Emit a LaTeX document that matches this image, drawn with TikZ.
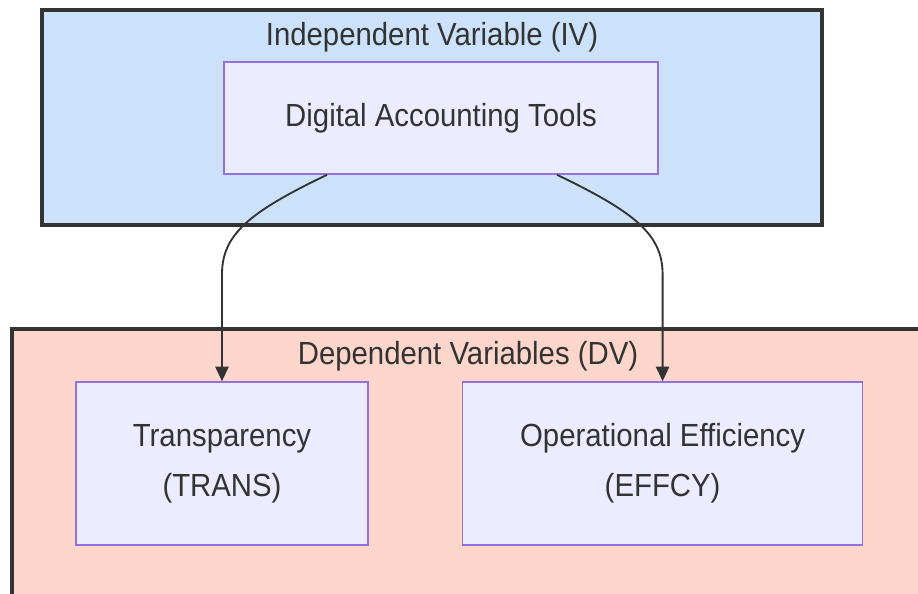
\documentclass[tikz,border=0pt]{standalone}
\usepackage{fontspec}
\setmainfont{Liberation Sans}[FakeStretch=0.917]
\usetikzlibrary{positioning, arrows.meta}

\definecolor{ivfill}{RGB}{204,226,250}
\definecolor{dvfill}{RGB}{252,213,203}
\definecolor{boxfill}{RGB}{236,236,255}
\definecolor{boxline}{RGB}{147,112,219}
\definecolor{ink}{RGB}{51,51,51}

\tikzset{
	cluster/.style={draw=ink, line width=3pt, rectangle, inner sep=0pt},
	var/.style={draw=boxline, fill=boxfill, line width=1.2pt, rectangle, inner sep=0pt,
		text=ink, align=center, font=\fontsize{24}{37.5}\selectfont},
	title/.style={text=ink, font=\fontsize{24}{28}\selectfont, inner sep=0pt},
	flow/.style={draw=ink, line width=1.4pt, -{Triangle[length=11pt, width=10pt]}}
}

\begin{document}
\begin{tikzpicture}[x=0.75pt, y=-0.75pt]
	\useasboundingbox (0,0) rectangle (918,593);
	\clip (0,0) rectangle (918,593);

	% clusters
	\node[cluster, fill=ivfill, minimum width=585pt, minimum height=161.25pt] (iv) at (432,117.5) {};
	\node[cluster, fill=dvfill, minimum width=688.5pt, minimum height=218.25pt] (dv) at (471,474.5) {};
	\node[title, anchor=base] (ivtitle) at (432,45) {Independent Variable (IV)};
	\node[title, anchor=base] (dvtitle) at (468,364) {Dependent Variables (DV)};

	% variables
	\node[var, minimum width=325.5pt, minimum height=84pt] (dat) at (441,118) {Digital Accounting Tools};
	\node[var, minimum width=219pt, minimum height=122.25pt] (trans) at (222,463.5) {Transparency\\(TRANS)};
	\node[var, minimum width=300pt, minimum height=122.25pt, right=69.75pt of trans] (effcy) {Operational Efficiency\\(EFFCY)};

	\draw[flow] ([xshift=-85.5pt]dat.south) .. controls +(-77,37) and +(0,-40) .. ([yshift=80.25pt]trans.north) -- (trans.north);
	\draw[flow] ([xshift=87pt]dat.south) .. controls +(77,37) and +(0,-40) .. ([yshift=80.25pt]effcy.north) -- (effcy.north);
\end{tikzpicture}
\end{document}
